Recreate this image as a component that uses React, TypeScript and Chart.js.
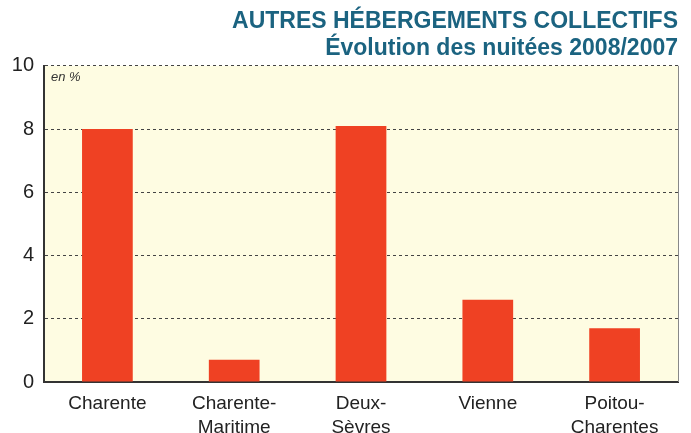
import React, { useEffect, useRef } from "react";
import { Chart, registerables } from "chart.js";

Chart.register(...registerables);

const categories: (string | string[])[] = [
  "Charente",
  ["Charente-", "Maritime"],
  ["Deux-", "Sèvres"],
  "Vienne",
  ["Poitou-", "Charentes"],
];
const values: number[] = [8.0, 0.7, 8.1, 2.6, 1.7];
const yTicks: number[] = [0, 2, 4, 6, 8, 10];
const titleLines: string[] = ["AUTRES HÉBERGEMENTS COLLECTIFS", "Évolution des nuitées 2008/2007"];
const unitLabel = "en %";

const FONT = "'Liberation Sans', Arial, Helvetica, sans-serif";

const plotDecor = {
  id: "plotDecor",
  beforeDraw(chart: any) {
    const { ctx, chartArea } = chart;
    ctx.save();
    ctx.fillStyle = "#fefce2";
    ctx.fillRect(chartArea.left, chartArea.top, chartArea.right - chartArea.left, chartArea.bottom - chartArea.top);
    ctx.restore();
  },
  afterDraw(chart: any) {
    const { ctx, chartArea } = chart;
    ctx.save();
    ctx.strokeStyle = "#888";
    ctx.lineWidth = 1;
    ctx.beginPath();
    ctx.moveTo(chartArea.right + 0.5, chartArea.top);
    ctx.lineTo(chartArea.right + 0.5, chartArea.bottom);
    ctx.stroke();
    ctx.fillStyle = "#333";
    ctx.font = `italic 13px ${FONT}`;
    ctx.textBaseline = "middle";
    ctx.textAlign = "left";
    ctx.fillText(unitLabel, chartArea.left + 7, chartArea.top + 12);
    ctx.restore();
  },
};

export default function App() {
  const ref = useRef<HTMLCanvasElement | null>(null);
  useEffect(() => {
    document.body.style.margin = "0";
    const chart = new Chart(ref.current!, {
      type: "bar",
      data: {
        labels: categories,
        datasets: [
          {
            data: values,
            backgroundColor: "#ef4123",
            barPercentage: 0.8,
            categoryPercentage: 0.5,
          },
        ],
      },
      options: {
        animation: false,
        responsive: false,
        layout: { padding: { left: 0, right: 13, top: 0, bottom: 0 } },
        plugins: {
          legend: { display: false },
          tooltip: { enabled: false },
          title: {
            display: true,
            text: titleLines,
            align: "end",
            color: "#1b6380",
            font: { family: FONT, size: 23, weight: "bold", lineHeight: 1.17 },
            padding: { top: 8, bottom: 4 },
          },
        },
        scales: {
          x: {
            grid: { display: false, drawTicks: false },
            border: { display: true, color: "#333", width: 2 },
            ticks: {
              color: "#222",
              font: { family: FONT, size: 19, lineHeight: 1.25 },
              padding: 10,
              maxRotation: 0,
              autoSkip: false,
            },
            afterFit: (s: any) => {
              s.height = 51;
            },
          },
          y: {
            min: 0,
            max: 10,
            afterBuildTicks: (s: any) => {
              s.ticks = yTicks.map((v) => ({ value: v }));
            },
            grid: {
              color: "#444",
              lineWidth: 1,
              drawTicks: false,
            },
            border: { display: true, color: "#333", width: 2, dash: [3, 3] },
            ticks: {
              color: "#222",
              font: { family: FONT, size: 20 },
              padding: 10,
            },
            afterFit: (s: any) => {
              s.width = 44;
            },
          },
        },
      } as any,
      plugins: [plotDecor],
    });
    return () => chart.destroy();
  }, []);
  return (
    <div style={{ position: "absolute", left: 0, top: 0, width: 691, height: 433 }}>
      <canvas ref={ref} width={691} height={433} style={{ width: 691, height: 433 }} />
    </div>
  );
}
